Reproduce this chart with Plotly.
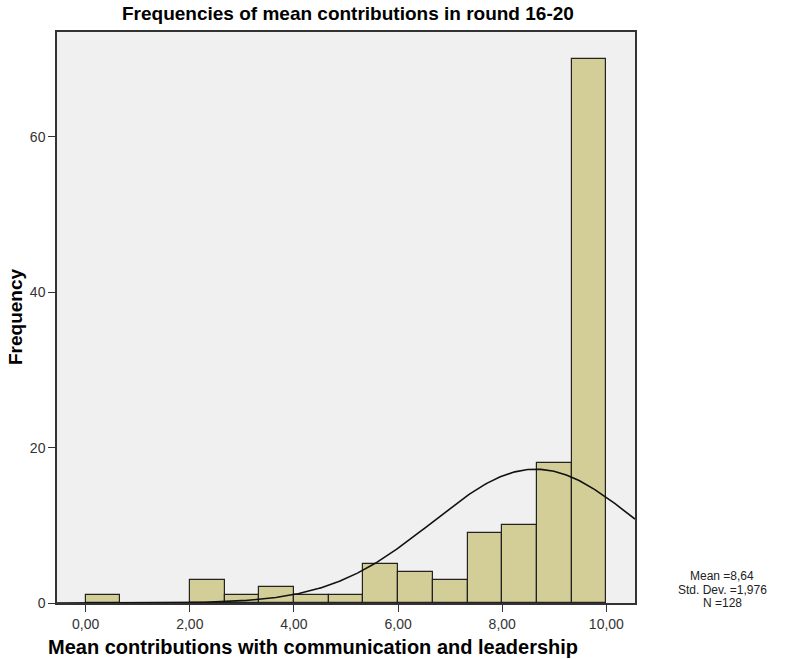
import numpy as np
import plotly.graph_objects as go

# Histogram bins (width 2/3) and their frequencies
bin_width = 2 / 3
bin_starts = [0.0, 2.0, 2 + 2/3, 3 + 1/3, 4.0, 4 + 2/3, 5 + 1/3, 6.0, 6 + 2/3, 7 + 1/3, 8.0, 8 + 2/3, 9 + 1/3]
frequencies = [1, 3, 1, 2, 1, 1, 5, 4, 3, 9, 10, 18, 70]

# Summary statistics shown beside the chart
mean_val = 8.64
std_val = 1.976
n_val = 128
stats_lines = ["Mean =8,64", "Std. Dev. =1,976", "N =128"]

x_tick_vals = [0, 2, 4, 6, 8, 10]
x_tick_text = ["0,00", "2,00", "4,00", "6,00", "8,00", "10,00"]
y_tick_vals = [0, 20, 40, 60]
y_tick_text = ["0", "20", "40", "60"]

x_range = [-0.551, 10.55]
y_range = [0, 73.5]

centers = [s + bin_width / 2 for s in bin_starts]

# Fitted normal curve scaled to counts
xc = np.linspace(x_range[0], x_range[1], 400)
yc = n_val * bin_width / (std_val * np.sqrt(2 * np.pi)) * np.exp(-0.5 * ((xc - mean_val) / std_val) ** 2)

W, H = 802, 659
L, R, T, B = 57, 167, 32, 56

def px_x(p):
    return (p - L) / (W - L - R)

def px_y(p):
    return (H - B - p) / (H - T - B)

fig = go.Figure()
fig.add_trace(go.Bar(
    x=centers, y=frequencies, width=bin_width,
    marker=dict(color="#D3CE97", line=dict(color="#222222", width=1.2)),
    hoverinfo="x+y",
))
fig.add_trace(go.Scatter(
    x=xc, y=yc, mode="lines",
    line=dict(color="#111111", width=1.6),
))

font_family = "Liberation Sans, Arial, sans-serif"

annotations = [
    dict(text="<b>Frequencies of mean contributions in round 16-20</b>",
         xref="paper", yref="paper", x=px_x(348), y=px_y(13),
         xanchor="center", yanchor="middle", showarrow=False,
         font=dict(size=19, color="#000000")),
    dict(text="<b>Mean contributions with communication and leadership</b>",
         xref="paper", yref="paper", x=px_x(313), y=px_y(647),
         xanchor="center", yanchor="middle", showarrow=False,
         font=dict(size=20, color="#000000")),
    dict(text="<b>Frequency</b>", textangle=-90,
         xref="paper", yref="paper", x=px_x(15), y=px_y(317),
         xanchor="center", yanchor="middle", showarrow=False,
         font=dict(size=19, color="#000000")),
]
for i, line in enumerate(stats_lines):
    annotations.append(dict(
        text=line, xref="paper", yref="paper",
        x=px_x(722), y=px_y(576 + 13.5 * i),
        xanchor="center", yanchor="middle", showarrow=False,
        font=dict(size=12, color="#222222"),
    ))

fig.update_layout(
    width=W, height=H,
    margin=dict(l=L, r=R, t=T, b=B),
    paper_bgcolor="white",
    plot_bgcolor="#F0F0F0",
    showlegend=False,
    bargap=0,
    font=dict(family=font_family, color="#222222"),
    xaxis=dict(
        range=x_range, tickmode="array", tickvals=x_tick_vals, ticktext=x_tick_text,
        ticks="outside", ticklen=7, tickcolor="#333333", tickwidth=1.2,
        showgrid=False, zeroline=False,
        showline=True, linecolor="#333333", linewidth=1.5, mirror=True,
        tickfont=dict(size=14, color="#333333"),
    ),
    yaxis=dict(
        range=y_range, tickmode="array", tickvals=y_tick_vals, ticktext=y_tick_text,
        ticks="outside", ticklen=7, tickcolor="#333333", tickwidth=1.2,
        showgrid=False, zeroline=False,
        showline=True, linecolor="#333333", linewidth=1.5, mirror=True,
        tickfont=dict(size=14, color="#333333"),
    ),
    annotations=annotations,
)

fig.write_html("out.html")
